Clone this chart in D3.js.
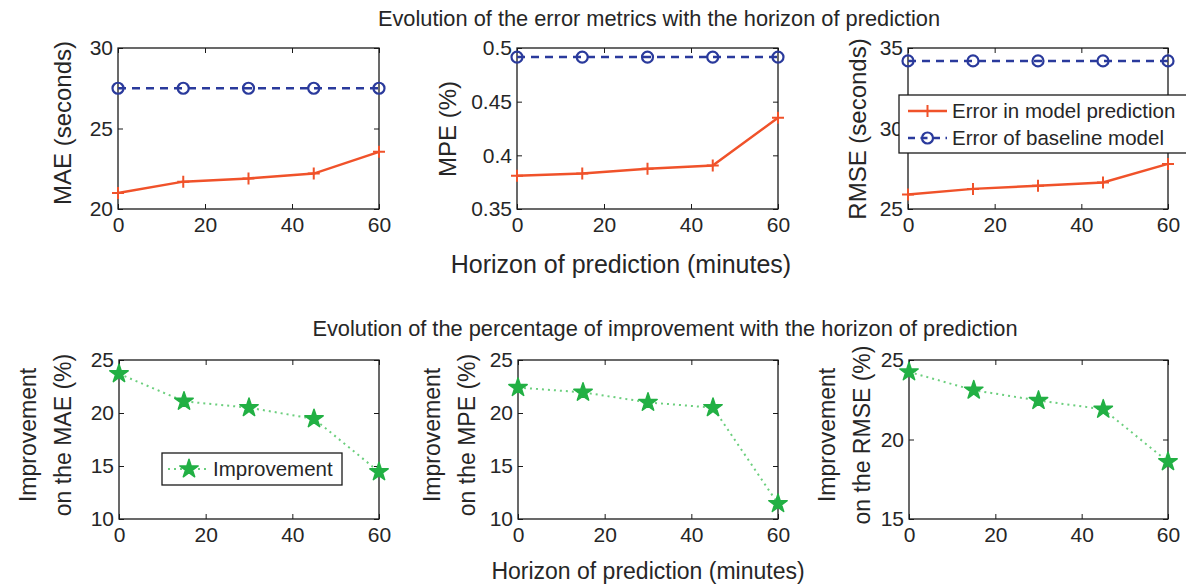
<!DOCTYPE html>
<html>
<head>
<meta charset="utf-8">
<script src="https://cdn.jsdelivr.net/npm/d3@7"></script>
<style>
  body { margin: 0; background: #fff; }
  text { font-family: "Liberation Sans", Arial, sans-serif; fill: #262626; }
  .box { fill: none; stroke: #1a1a1a; stroke-width: 1.3; }
  .tick line { stroke: #1a1a1a; stroke-width: 1; }
</style>
</head>
<body>
<svg width="1186" height="586"></svg>
<script>
var svg = d3.select("svg");

// data
var horizon = [0, 15, 30, 45, 60];
var xTicks = [0, 20, 40, 60];

var maeModel = [21.0, 21.7, 21.9, 22.2, 23.55];
var maeBase = [27.5, 27.5, 27.5, 27.5, 27.5];
var mpeModel = [0.381, 0.383, 0.3875, 0.3905, 0.435];
var mpeBase = [0.4915, 0.4915, 0.4915, 0.4915, 0.4915];
var rmseModel = [25.9, 26.25, 26.45, 26.65, 27.8];
var rmseBase = [34.2, 34.2, 34.2, 34.2, 34.2];

var impMAE = [23.7, 21.1, 20.5, 19.45, 14.45];
var impMPE = [22.4, 21.95, 21.0, 20.5, 11.45];
var impRMSE = [24.25, 23.1, 22.45, 21.9, 18.6];

var maeTicks = [20, 25, 30];
var mpeTicks = [0.35, 0.4, 0.45, 0.5];
var rmseTicks = [25, 30, 35];
var impTicks = [10, 15, 20, 25];
var impRmseTicks = [15, 20, 25];

var orange = "#f0522a";
var blue = "#2a3a9c";
var green = "#22b044";
var lightGreen = "#6ccf7e";

// one axes box with matlab style inward ticks
function makePanel(x0, x1, y0, y1, yDomain, yTicks) {
  var x = d3.scaleLinear().domain([0, 60]).range([x0, x1]);
  var y = d3.scaleLinear().domain(yDomain).range([y1, y0]);
  var g = svg.append("g");

  g.append("g")
  .attr("transform", "translate(0," + y1 + ")")
  .call(d3.axisBottom(x).tickValues(xTicks).tickSize(-5).tickPadding(8))
  .call(function(a) { a.select(".domain").remove(); })
  .selectAll("text").style("font-size", "21px");

  g.append("g")
  .attr("transform", "translate(0," + y0 + ")")
  .call(d3.axisTop(x).tickValues(xTicks).tickSize(-5).tickFormat(""))
  .call(function(a) { a.select(".domain").remove(); });

  g.append("g")
  .attr("transform", "translate(" + x0 + ",0)")
  .call(d3.axisLeft(y).tickValues(yTicks).tickSize(-5).tickPadding(5).tickFormat(function(d) { return d; }))
  .call(function(a) { a.select(".domain").remove(); })
  .selectAll("text").style("font-size", "21px");

  g.append("g")
  .attr("transform", "translate(" + x1 + ",0)")
  .call(d3.axisRight(y).tickValues(yTicks).tickSize(-5).tickFormat(""))
  .call(function(a) { a.select(".domain").remove(); });

  g.append("rect")
  .attr("class", "box")
  .attr("x", x0)
  .attr("y", y0)
  .attr("width", x1 - x0)
  .attr("height", y1 - y0);

  g.selectAll("text").attr("fill", "#262626");
  return { g: g, x: x, y: y };
}

function drawModel(p, vals) {
  var line = d3.line().x(function(d, i) { return p.x(horizon[i]); }).y(function(d) { return p.y(d); });
  p.g.append("path")
  .datum(vals)
  .attr("d", line)
  .attr("fill", "none")
  .attr("stroke", orange)
  .attr("stroke-width", 2.5);
  p.g.selectAll(null)
  .data(vals)
  .enter()
  .append("path")
  .attr("d", "M-6,0H6M0,-6V6")
  .attr("transform", function(d, i) { return "translate(" + p.x(horizon[i]) + "," + p.y(d) + ")"; })
  .attr("stroke", orange)
  .attr("stroke-width", 2);
}

function drawBase(p, vals) {
  var line = d3.line().x(function(d, i) { return p.x(horizon[i]); }).y(function(d) { return p.y(d); });
  p.g.append("path")
  .datum(vals)
  .attr("d", line)
  .attr("fill", "none")
  .attr("stroke", blue)
  .attr("stroke-width", 2.5)
  .attr("stroke-dasharray", "8,6");
  p.g.selectAll(null)
  .data(vals)
  .enter()
  .append("circle")
  .attr("cx", function(d, i) { return p.x(horizon[i]); })
  .attr("cy", function(d) { return p.y(d); })
  .attr("r", 5.5)
  .attr("fill", "none")
  .attr("stroke", blue)
  .attr("stroke-width", 2.2);
}

var star = d3.symbol().type(d3.symbolStar).size(105);

function drawImp(p, vals) {
  var line = d3.line().x(function(d, i) { return p.x(horizon[i]); }).y(function(d) { return p.y(d); });
  p.g.append("path")
  .datum(vals)
  .attr("d", line)
  .attr("fill", "none")
  .attr("stroke", lightGreen)
  .attr("stroke-width", 2)
  .attr("stroke-dasharray", "2,4");
  p.g.selectAll(null)
  .data(vals)
  .enter()
  .append("path")
  .attr("d", star)
  .attr("transform", function(d, i) { return "translate(" + p.x(horizon[i]) + "," + p.y(d) + ")"; })
  .attr("fill", green)
  .attr("stroke", green)
  .attr("stroke-width", 1.5)
  .attr("stroke-linejoin", "round");
}

function yLabel(cx, cy, lines, size) {
  var t = svg.append("text")
  .attr("transform", "translate(" + cx + "," + cy + ") rotate(-90)")
  .attr("text-anchor", "middle")
  .style("font-size", size + "px");
  lines.forEach(function(s, i) {
    t.append("tspan")
    .attr("x", 0)
    .attr("dy", i == 0 ? 0 : "1.52em")
    .text(s);
  });
}

// top row
var p1 = makePanel(118, 379, 48, 209, [20, 30], maeTicks);
drawBase(p1, maeBase);
drawModel(p1, maeModel);
var p2 = makePanel(517, 778, 48, 209, [0.35, 0.5], mpeTicks);
drawBase(p2, mpeBase);
drawModel(p2, mpeModel);
var p3 = makePanel(908, 1168, 48, 209, [25, 35], rmseTicks);
drawBase(p3, rmseBase);
drawModel(p3, rmseModel);

// bottom row
var q1 = makePanel(119, 379, 360, 519, [10, 25], impTicks);
drawImp(q1, impMAE);
var q2 = makePanel(518, 778, 360, 519, [10, 25], impTicks);
drawImp(q2, impMPE);
var q3 = makePanel(909, 1168, 360, 519, [15, 25], impRmseTicks);
drawImp(q3, impRMSE);

// titles
svg.append("text")
.attr("x", 659).attr("y", 26)
.attr("text-anchor", "middle")
.style("font-size", "21.8px")
.text("Evolution of the error metrics with the horizon of prediction");

svg.append("text")
.attr("x", 665).attr("y", 336)
.attr("text-anchor", "middle")
.style("font-size", "21.8px")
.text("Evolution of the percentage of improvement with the horizon of prediction");

svg.append("text")
.attr("x", 621).attr("y", 273)
.attr("text-anchor", "middle")
.style("font-size", "25px")
.text("Horizon of prediction (minutes)");

svg.append("text")
.attr("x", 648).attr("y", 579)
.attr("text-anchor", "middle")
.style("font-size", "23px")
.text("Horizon of prediction (minutes)");

// y labels
yLabel(71, 123, ["MAE (seconds)"], 24);
yLabel(456, 129, ["MPE (%)"], 24);
yLabel(866, 129, ["RMSE (seconds)"], 24);
yLabel(36, 435, ["Improvement", "on the MAE (%)"], 23);
yLabel(440, 435, ["Improvement", "on the MPE (%)"], 23);
yLabel(835, 435, ["Improvement", "on the RMSE (%)"], 23);

// legend, top right
var leg = svg.append("g");
leg.append("rect")
.attr("x", 899).attr("y", 95)
.attr("width", 300).attr("height", 58)
.attr("fill", "#fff")
.attr("stroke", "#1a1a1a")
.attr("stroke-width", 1.3);
leg.append("line")
.attr("x1", 908).attr("x2", 947).attr("y1", 111).attr("y2", 111)
.attr("stroke", orange).attr("stroke-width", 2.5);
leg.append("path")
.attr("d", "M-6,0H6M0,-6V6")
.attr("transform", "translate(927.5,111)")
.attr("stroke", orange).attr("stroke-width", 2);
leg.append("text")
.attr("x", 952).attr("y", 118)
.style("font-size", "20.5px")
.text("Error in model prediction");
leg.append("line")
.attr("x1", 908).attr("x2", 947).attr("y1", 138).attr("y2", 138)
.attr("stroke", blue).attr("stroke-width", 2.5)
.attr("stroke-dasharray", "7,5.5");
leg.append("circle")
.attr("cx", 927.5).attr("cy", 138).attr("r", 5.5)
.attr("fill", "none").attr("stroke", blue).attr("stroke-width", 2.2);
leg.append("text")
.attr("x", 952).attr("y", 145)
.style("font-size", "20.5px")
.text("Error of baseline model");

// legend, bottom left
var leg2 = svg.append("g");
leg2.append("rect")
.attr("x", 162).attr("y", 453)
.attr("width", 180).attr("height", 32)
.attr("fill", "#fff")
.attr("stroke", "#1a1a1a")
.attr("stroke-width", 1.3);
leg2.append("line")
.attr("x1", 168).attr("x2", 207).attr("y1", 469).attr("y2", 469)
.attr("stroke", lightGreen).attr("stroke-width", 2)
.attr("stroke-dasharray", "2,4");
leg2.append("path")
.attr("d", star)
.attr("transform", "translate(189,469)")
.attr("fill", green).attr("stroke", green).attr("stroke-width", 1.5)
.attr("stroke-linejoin", "round");
leg2.append("text")
.attr("x", 213).attr("y", 476)
.style("font-size", "20.5px")
.text("Improvement");
</script>
</body>
</html>
